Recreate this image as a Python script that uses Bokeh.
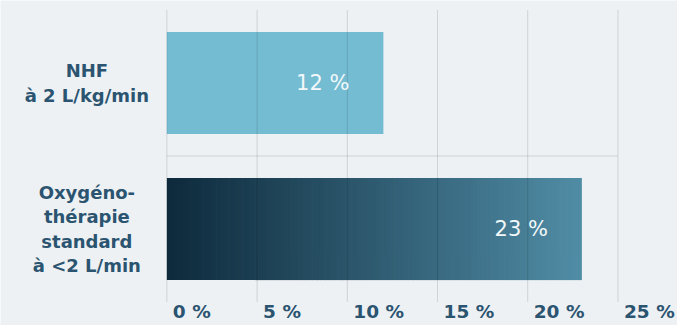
import numpy as np
from bokeh.plotting import figure
from bokeh.models import Range1d
from bokeh.core.properties import value
from bokeh.embed import file_html
from bokeh.resources import INLINE

# ---- data ----
categories = ["NHF\nà 2 L/kg/min", "Oxygéno-\nthérapie\nstandard\nà <2 L/min"]
values = [12, 23]
value_labels = ["12 %", "23 %"]
tick_values = [0, 5, 10, 15, 20, 25]
tick_labels = ["0 %", "5 %", "10 %", "15 %", "20 %", "25 %"]

# ---- styling ----
BG = "#eef1f4"
LABEL_COLOR = "#2b5470"
BAR1_COLOR = "#74bcd2"
GRAD_LEFT = np.array([14, 42, 60])
GRAD_RIGHT = np.array([80, 140, 165])
BAR_HALF = 0.35

p = figure(width=677, height=325, output_backend="svg", toolbar_location=None,
           x_range=Range1d(-9.22, 28.3), y_range=Range1d(1.661, -0.565),
           min_border=0, min_border_left=0, min_border_right=0,
           min_border_top=0, min_border_bottom=0)
p.axis.visible = False
p.grid.visible = False
p.outline_line_color = None
p.background_fill_color = BG
p.border_fill_color = BG

ypos = list(range(len(categories)))

# bar 1 (flat colour)
p.quad(left=[0], right=[values[0]], top=[ypos[0] - BAR_HALF], bottom=[ypos[0] + BAR_HALF],
       fill_color=BAR1_COLOR, line_color=None)

# bar 2 (horizontal gradient made of thin slices)
n = 160
edges = np.linspace(0, values[1], n + 1)
t = np.linspace(0, 1, n)
cols = ["#%02x%02x%02x" % tuple(int(round(c)) for c in (GRAD_LEFT + (GRAD_RIGHT - GRAD_LEFT) * tt)) for tt in t]
overlap = (edges[1] - edges[0]) * 0.3
rights = np.minimum(edges[1:] + overlap, values[1])
p.quad(left=edges[:-1], right=rights,
       top=[ypos[1] - BAR_HALF] * n, bottom=[ypos[1] + BAR_HALF] * n,
       fill_color=cols, line_color=None)

# grid lines on top of bars
p.segment(x0=tick_values, x1=tick_values, y0=[-0.5] * len(tick_values), y1=[1.5] * len(tick_values),
          line_color="#000000", line_alpha=0.13, line_width=1)
# separator between categories
p.segment(x0=[tick_values[0]], x1=[tick_values[-1]], y0=[0.5], y1=[0.5],
          line_color="#000000", line_alpha=0.13, line_width=1)

# value labels inside bars
p.text(x=values, y=ypos, text=value_labels, x_offset=-34, text_align="right",
       text_baseline="middle", text_color="#f2f8fa", text_font=value("DejaVu Sans"),
       text_font_size="21px")

# category labels
p.text(x=[0] * len(categories), y=ypos, text=categories, x_offset=-80, text_align="center",
       text_baseline="middle", text_color=LABEL_COLOR, text_font=value("DejaVu Sans"),
       text_font_style="bold", text_font_size="18px", text_line_height=1.17)

# tick labels (left aligned just right of each grid line)
p.text(x=tick_values, y=[1.568] * len(tick_values), text=tick_labels, x_offset=6,
       text_align="left", text_baseline="middle", text_color=LABEL_COLOR,
       text_font=value("DejaVu Sans"), text_font_style="bold", text_font_size="18.5px")

open("out.html", "w").write(file_html(p, INLINE))
